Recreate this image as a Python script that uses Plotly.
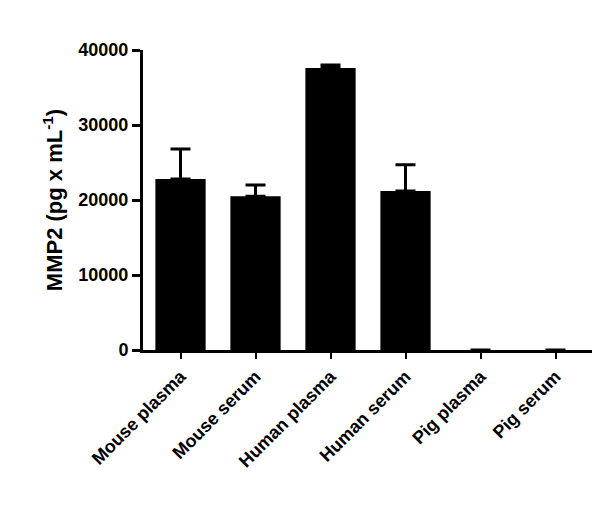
import plotly.graph_objects as go

categories = ["Mouse plasma", "Mouse serum", "Human plasma", "Human serum", "Pig plasma", "Pig serum"]
values = [22800, 20500, 37600, 21200, 0, 0]
errors = [4000, 1500, 400, 3500, None, None]
yticks = [0, 10000, 20000, 30000, 40000]

fig = go.Figure(go.Bar(
    x=categories, y=values, width=0.67,
    marker=dict(color="black", line=dict(width=0)),
    error_y=dict(type="data", array=errors, arrayminus=[0, 0, 0, 0, None, None], symmetric=False,
                 color="black", thickness=3, width=10),
))
fig.update_layout(
    width=600, height=508, plot_bgcolor="white", paper_bgcolor="white",
    margin=dict(l=135, r=15, t=42, b=166, autoexpand=False), showlegend=False,
    font=dict(family="Liberation Sans, Arial", color="black"),
)
fig.update_xaxes(range=[-0.5, 5.5], showline=True, linecolor="black", linewidth=3,
                 ticks="outside", ticklen=6, tickwidth=2, tickcolor="black", tickangle=-45,
                 tickvals=categories, ticktext=[f"<b>{c}</b>" for c in categories],
                 tickfont=dict(size=18), showgrid=False, automargin=False)
fig.update_yaxes(range=[0, 40000], showline=True, linecolor="black", linewidth=3,
                 ticks="outside", ticklen=8, tickwidth=3, tickcolor="black",
                 tickvals=yticks, ticktext=[f"<b>{v}</b>" for v in yticks],
                 tickfont=dict(size=18), showgrid=False, zeroline=False, automargin=False,
                 title=dict(text="<b>MMP2 (pg x mL<sup>-1</sup>)</b>", font=dict(size=22), standoff=10))
fig.add_annotation(text="Copyright(c) 2014 Abcam plc", xref="paper", yref="paper",
                   x=1.0, y=0.0, xanchor="left", yanchor="top", xshift=0, yshift=-8, textangle=-90,
                   showarrow=False, font=dict(size=8, color="black"))
fig.write_html("out.html")
